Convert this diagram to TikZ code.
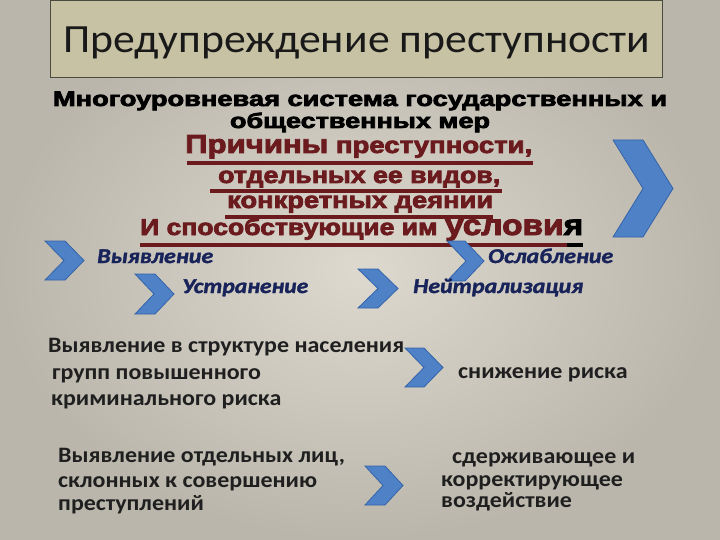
\documentclass[tikz,border=0pt]{standalone}
\usepackage{fontspec}
\usepackage{graphicx}
\setmainfont{Carlito}
\newfontfamily\heavyfont{Liberation Sans Bold}[FakeBold=3]
\newfontfamily\carl{Carlito}
\newfontfamily\carlbi{Carlito Bold Italic}[FakeBold=1.5]
\newfontfamily\carlw{Carlito}[FakeStretch=1.09]
\newcommand\fitw[2]{\resizebox{#1}{\height}{#2}}
\definecolor{bgin}{HTML}{DDD9CF}
\definecolor{bgout}{HTML}{BAB6AC}
\definecolor{titlefill}{HTML}{C7C2A3}
\definecolor{titledraw}{HTML}{4A4A40}
\definecolor{darkred}{HTML}{6B1B1E}
\definecolor{navy}{HTML}{18235A}
\definecolor{chevfill}{HTML}{4F81C7}
\definecolor{chevdraw}{HTML}{3563A8}
\newcommand\chevron[6]{% name, x, y, w, h, d
  \path[chev] (#2,#3) -- ++(#4-#6,0) -- ++(#6,#5/2) -- ++(-#6,#5/2) -- ++(-#4+#6,0) -- ++(#6,-#5/2) -- cycle;
  \coordinate (#1) at (#2+#4/2,#3+#5/2);}
\tikzset{
  chev/.style={fill=chevfill, draw=chevdraw, line width=0.8pt, line join=miter},
  ttl/.style={inner sep=0pt, anchor=base west, font=\carl\fontsize{40}{44}\selectfont, text=black!90},
  sub/.style={inner sep=0pt, anchor=base, font=\heavyfont\fontsize{21}{23}\selectfont, text=black},
  red/.style={inner sep=0pt, anchor=base west, font=\heavyfont\fontsize{23}{25}\selectfont, text=darkred},
  uline/.style={draw=darkred, line width=4pt},
  blu/.style={inner sep=0pt, anchor=base west, font=\carlbi\fontsize{21}{23}\selectfont, text=navy},
  blk/.style={inner sep=0pt, anchor=base west, font=\carlw\bfseries\fontsize{22}{24}\selectfont, text=black!88},
}
\begin{document}
\begin{tikzpicture}[x=1pt,y=-1pt]
\useasboundingbox (0,0) rectangle (720,540);
\shade[inner color=bgin, outer color=bgout] (0,0) rectangle (720,540);
% title
\path[fill=titlefill, draw=titledraw, line width=1pt] (50.5,1) rectangle (662.5,78);
\node[ttl] (title) at (63,53) {\fitw{587pt}{Предупреждение преступности}};
% subtitle
\node[sub] (sub1) at (360,106) {\fitw{614pt}{Многоуровневая система государственных и}};
\node[sub] (sub2) at (360,128) {\fitw{260pt}{общественных мер}};
% red block
\node[red] (r1) at (185,153) {\fitw{347pt}{{\fontsize{26}{28}\selectfont Причины} преступности,}};
\node[red] (r2) at (218,183) {\fitw{282pt}{отдельных ее видов,}};
\node[red] (r3) at (227,208) {\fitw{266pt}{конкретных деянии}};
\node[red] (r4) at (140,235) {\fitw{443pt}{И способствующие им {\fontsize{29}{31}\selectfont услови\textcolor{black}{я}}}};
\draw[uline] (187,163) -- (533,163);
\draw[uline] (210,191) -- (502,191);
\draw[uline] (225,217) -- (493,217);
\draw[uline] (140,245) -- (567,245);
\draw[uline, draw=black] (567,245) -- (583,245);
% chevrons
\chevron{cbig}{613}{140}{60}{97}{30}
\chevron{c1}{45}{241}{39}{39}{19}
\chevron{c2}{135}{274}{39}{40}{19}
\chevron{c3}{358}{269}{40}{39}{20}
\chevron{c4}{447}{241}{37}{40}{19}
\chevron{c5}{405}{348}{38}{39}{19}
\chevron{c6}{365}{466}{38}{39}{18}
% blue italic
\node[blu] (b1) at (97,263) {\fitw{116pt}{Выявление}};
\node[blu] (b2) at (182,293) {\fitw{126pt}{Устранение}};
\node[blu] (b3) at (488,263) {\fitw{125pt}{Ослабление}};
\node[blu] (b4) at (413,293) {\fitw{170pt}{Нейтрализация}};
% black blocks
\node[blk] (a1) at (48,352) {Выявление в структуре населения};
\node[blk] (a2) at (52,379) {групп повышенного};
\node[blk] (a3) at (51,405) {криминального риска};
\node[blk] (s1) at (458,378) {снижение риска};
\node[blk] (d1) at (58,462) {Выявление отдельных лиц,};
\node[blk] (d2) at (58,487) {склонных к совершению};
\node[blk] (d3) at (58,510) {преступлений};
\node[blk] (e1) at (452,463) {сдерживающее и};
\node[blk] (e2) at (441,486) {корректирующее};
\node[blk] (e3) at (441,507) {воздействие};
\end{tikzpicture}
\end{document}
